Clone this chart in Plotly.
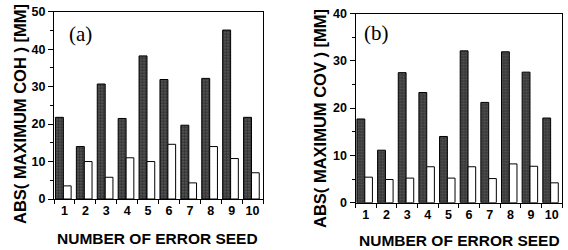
import plotly.graph_objects as go

seeds = ["1", "2", "3", "4", "5", "6", "7", "8", "9", "10"]
coh_dark = [21.8, 14.0, 30.7, 21.5, 38.2, 31.9, 19.7, 32.2, 45.1, 21.8]
coh_white = [3.5, 10.0, 5.8, 11.0, 10.0, 14.6, 4.3, 14.0, 10.8, 7.0]
cov_dark = [17.7, 11.1, 27.5, 23.3, 14.0, 32.1, 21.2, 31.9, 27.6, 17.9]
cov_white = [5.4, 4.9, 5.2, 7.6, 5.2, 7.6, 5.1, 8.2, 7.7, 4.2]
y_titles = ["ABS( MAXIMUM COH ) [MM]", "ABS( MAXIMUM COV ) [MM]"]
x_title = "NUMBER OF ERROR SEED"
panel_labels = ["(a)", "(b)"]

W, H = 568, 250
fig = go.Figure()

dark_marker = dict(
    color="#3a3a3a",
    line=dict(color="black", width=1),
    pattern=dict(shape=".", fgcolor="#000000", bgcolor="#5e5e5e", size=3, solidity=0.6),
)
white_marker = dict(color="white", line=dict(color="black", width=1))

for i, (dk, wt) in enumerate([(coh_dark, coh_white), (cov_dark, cov_white)]):
    xa = "x" if i == 0 else "x2"
    ya = "y" if i == 0 else "y2"
    fig.add_trace(go.Bar(x=seeds, y=dk, xaxis=xa, yaxis=ya, width=0.38, offset=-0.43,
                         marker=dark_marker, showlegend=False))
    fig.add_trace(go.Bar(x=seeds, y=wt, xaxis=xa, yaxis=ya, width=0.37, offset=-0.05,
                         marker=white_marker, showlegend=False))

sans = "Liberation Sans, Arial"
tickfont = dict(family=sans, size=12.5, color="black", weight="bold")
titlefont_x = dict(family=sans, size=15.5, color="black", weight="bold")
titlefont_y = dict(family=sans, size=16.5, color="black", weight="bold")

def xaxis(domain, anchor):
    return dict(domain=domain, anchor=anchor, type="category", categoryorder="array",
                categoryarray=seeds, range=[-0.5, 9.5], tickson="boundaries",
                ticks="outside", ticklen=4, tickwidth=1, tickcolor="black", tickangle=0,
                showline=True, linecolor="black", linewidth=1, mirror=True,
                showgrid=False, tickfont=tickfont, automargin=False)

def yaxis(domain, anchor, rmax):
    return dict(domain=domain, anchor=anchor, range=[0, rmax], dtick=10,
                ticks="outside", ticklen=5, tickwidth=1, tickcolor="black",
                minor=dict(dtick=5, ticks="outside", ticklen=3, tickcolor="black"),
                showline=True, linecolor="black", linewidth=1, mirror=True,
                showgrid=False, zeroline=False, tickfont=tickfont, automargin=False)

def ann(text, x, y, font, angle=0):
    return dict(text=text, x=x / W, y=(H - y) / H, xref="paper", yref="paper",
                showarrow=False, textangle=angle, font=font,
                xanchor="center", yanchor="middle")

serif = dict(family="Liberation Serif, Times New Roman", size=21, color="black")

fig.update_layout(
    width=W, height=H,
    margin=dict(l=0, r=0, t=0, b=0),
    paper_bgcolor="white", plot_bgcolor="white",
    barmode="overlay",
    xaxis=xaxis([54 / W, 263 / W], "y"),
    yaxis=yaxis([(H - 199) / H, (H - 11.7) / H], "x", 50),
    xaxis2=xaxis([355.5 / W, 562 / W], "y2"),
    yaxis2=yaxis([(H - 202.7) / H, (H - 13.5) / H], "x2", 40),
    annotations=[
        ann(panel_labels[0], 80, 34, serif),
        ann(panel_labels[1], 376, 33, serif),
        ann(x_title, 157.5, 238, titlefont_x),
        ann(x_title, 459, 240, titlefont_x),
        ann(y_titles[0], 20, 114, titlefont_y, -90),
        ann(y_titles[1], 320, 119, titlefont_y, -90),
    ],
)

fig.write_html(
    "out.html",
    config={"displayModeBar": False},
    post_script="document.body.style.margin='0';document.body.style.overflow='hidden';",
)
